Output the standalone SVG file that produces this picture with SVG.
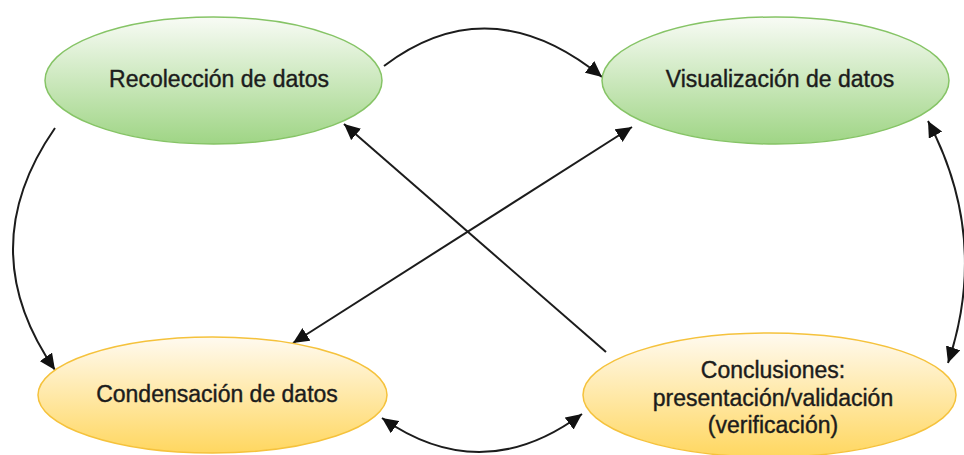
<svg xmlns="http://www.w3.org/2000/svg" width="964" height="455" viewBox="0 0 964 455">
  <style>
    .green { fill: url(#gGreen); stroke: #86c466; stroke-width: 1.5; }
    .yellow { fill: url(#gYellow); stroke: #f5c23c; stroke-width: 1.5; }
    .label { font-family: "Liberation Sans", Arial, sans-serif; font-size: 23px; fill: #1c1c1c; stroke: #1c1c1c; stroke-width: 0.4; text-anchor: middle; }
    .edge { fill: none; stroke: #1c1c1c; stroke-width: 2; }
  </style>
  <defs>
    <linearGradient id="gGreen" x1="0" y1="0" x2="0" y2="1">
      <stop offset="0" stop-color="#f8fbf5"/>
      <stop offset="1" stop-color="#9fd585"/>
    </linearGradient>
    <linearGradient id="gYellow" x1="0" y1="0" x2="0" y2="1">
      <stop offset="0" stop-color="#fffaf0"/>
      <stop offset="1" stop-color="#ffd760"/>
    </linearGradient>
    <marker id="arrow" markerUnits="userSpaceOnUse" markerWidth="17" markerHeight="15" refX="16" refY="7.5" orient="auto-start-reverse">
      <path d="M0,0 L16,7.5 L0,15 Z" fill="#111"/>
    </marker>
  </defs>

  <rect width="964" height="455" fill="#ffffff"/>

  <g id="connectors">
    <!-- Recolección -> Visualización -->
    <path class="edge" d="M384,66 Q490,-14 602,77" marker-end="url(#arrow)"/>
    <!-- Recolección -> Condensación -->
    <path class="edge" d="M55,128 Q-29,249 55,370" marker-end="url(#arrow)"/>
    <!-- Visualización <-> Conclusiones -->
    <path class="edge" d="M928,121 Q990,238 948,363" marker-start="url(#arrow)" marker-end="url(#arrow)"/>
    <!-- Condensación <-> Conclusiones -->
    <path class="edge" d="M382,418 Q482,488 582,414" marker-start="url(#arrow)" marker-end="url(#arrow)"/>
    <!-- Conclusiones -> Recolección -->
    <path class="edge" d="M606,352 L344,124" marker-end="url(#arrow)"/>
    <!-- Condensación <-> Visualización -->
    <path class="edge" d="M293,343 L632,127" marker-start="url(#arrow)" marker-end="url(#arrow)"/>
  </g>

  <g id="recoleccion">
    <ellipse class="green" cx="213.5" cy="80.5" rx="168.5" ry="63.5"/>
    <text class="label" x="219" y="87">Recolección de datos</text>
  </g>

  <g id="visualizacion">
    <ellipse class="green" cx="775.5" cy="80.5" rx="173.5" ry="63.5"/>
    <text class="label" x="780" y="87">Visualización de datos</text>
  </g>

  <g id="condensacion">
    <ellipse class="yellow" cx="212.5" cy="395" rx="174.5" ry="58"/>
    <text class="label" x="217" y="402">Condensación de datos</text>
  </g>

  <g id="conclusiones">
    <ellipse class="yellow" cx="769.5" cy="395" rx="186.5" ry="62"/>
    <text class="label" x="773" y="378">Conclusiones:</text>
    <text class="label" x="773" y="406">presentación/validación</text>
    <text class="label" x="773" y="433">(verificación)</text>
  </g>
</svg>
